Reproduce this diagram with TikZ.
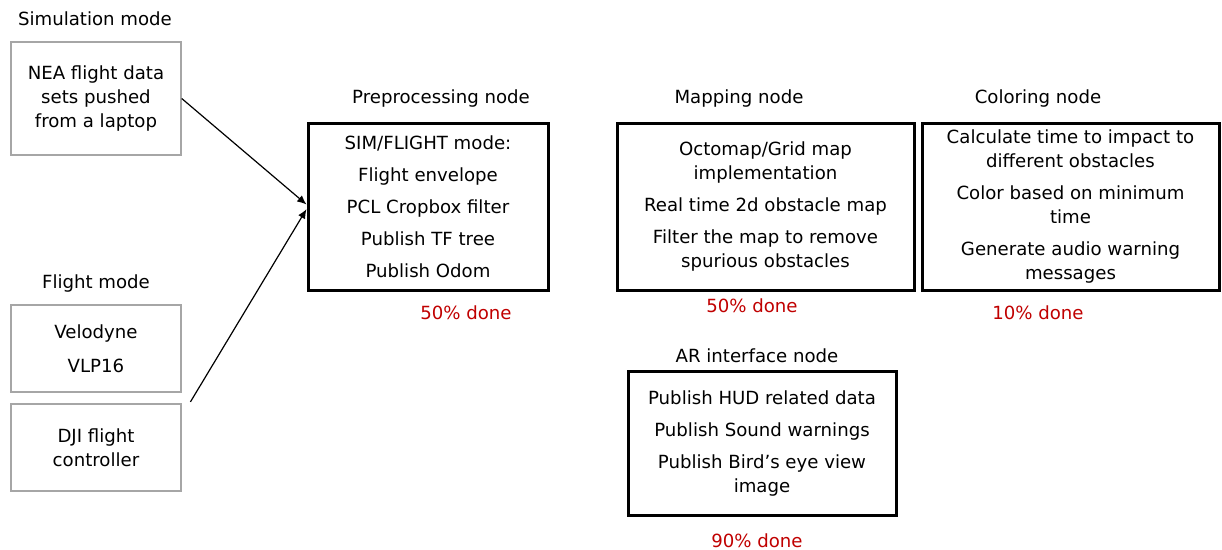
\documentclass[tikz,border=0pt]{standalone}
\usepackage{fontspec}
\setmainfont{DejaVu Sans}
\usepackage{tikz}
\usetikzlibrary{arrows.meta,positioning}
\definecolor{donered}{HTML}{C00000}
\definecolor{srcgray}{HTML}{A6A6A6}
\tikzset{
  srcbox/.style={
    rectangle, draw=srcgray, line width=1.1pt,
    minimum width=127.5pt, minimum height=#1,
    align=center, inner sep=2pt
  },
  srcbox/.default=65.25pt,
  procbox/.style={
    rectangle, draw=black, line width=2.25pt,
    minimum width=#1, minimum height=125.25pt,
    align=center, inner sep=2pt
  },
  procbox/.default=222.75pt,
  titlenode/.style={align=center},
  donenode/.style={text=donered},
  feedarrow/.style={
    -{Latex[length=7pt,width=6pt]}, line width=0.9pt, color=black
  },
}

\begin{document}
\begin{tikzpicture}[x=0.75pt, y=-0.75pt,
  every node/.style={font=\fontsize{13.6}{18}\selectfont}]
  \useasboundingbox (0,0) rectangle (1222,550);

  % Sources
  \node[titlenode] (simtitle) at (95,19) {Simulation mode};
  \node[srcbox=84.75pt] (sim) at (96,98.5)
    {NEA flight data\\sets pushed\\from a laptop};
  \node[titlenode] (flttitle) at (96,283) {Flight mode};
  \node[srcbox] (velo) at (96,348.5) {Velodyne\\[7.5pt]VLP16};
  \node[srcbox] (dji) at (96,447.5) {DJI flight\\controller};

  % Processing nodes
  \node[procbox=180pt] (pre) at (428,206.5)
    {SIM/FLIGHT mode:\\[6pt]Flight envelope\\[6pt]PCL Cropbox filter\\[6pt]Publish TF tree\\[6pt]Publish Odom};
  \node[titlenode] (pretitle) at (441,98) {Preprocessing node};
  \node[donenode] (predone) at (466,313) {50\% done};

  \node[procbox] (map) at (765.5,206.5)
    {Octomap/Grid map\\implementation\\[6pt]Real time 2d obstacle map\\[6pt]Filter the map to remove\\spurious obstacles};
  \node[titlenode] (maptitle) at (739,98) {Mapping node};
  \node[donenode] (mapdone) at (752,306) {50\% done};

  \node[procbox] (col) at (1070.5,206.5)
    {Calculate time to impact to\\different obstacles\\[6pt]Color based on minimum\\time\\[6pt]Generate audio warning\\messages};
  \node[titlenode] (coltitle) at (1038,98) {Coloring node};
  \node[donenode] (coldone) at (1038,313) {10\% done};

  \node[procbox=201pt, minimum height=108pt] (ar) at (762,443)
    {Publish HUD related data\\[6pt]Publish Sound warnings\\[6pt]Publish Bird’s eye view\\image};
  \node[titlenode] (artitle) at (757,356) {AR interface node};
  \node[donenode] (ardone) at (757,541) {90\% done};

  % Inputs to preprocessing
  \coordinate (djiout) at ([xshift=6.5pt,yshift=1pt]dji.north east);
  \draw[feedarrow] (sim.east) -- ([yshift=1.5pt]pre.west);
  \draw[feedarrow] (djiout) -- ([yshift=-2pt]pre.west);
\end{tikzpicture}
\end{document}
